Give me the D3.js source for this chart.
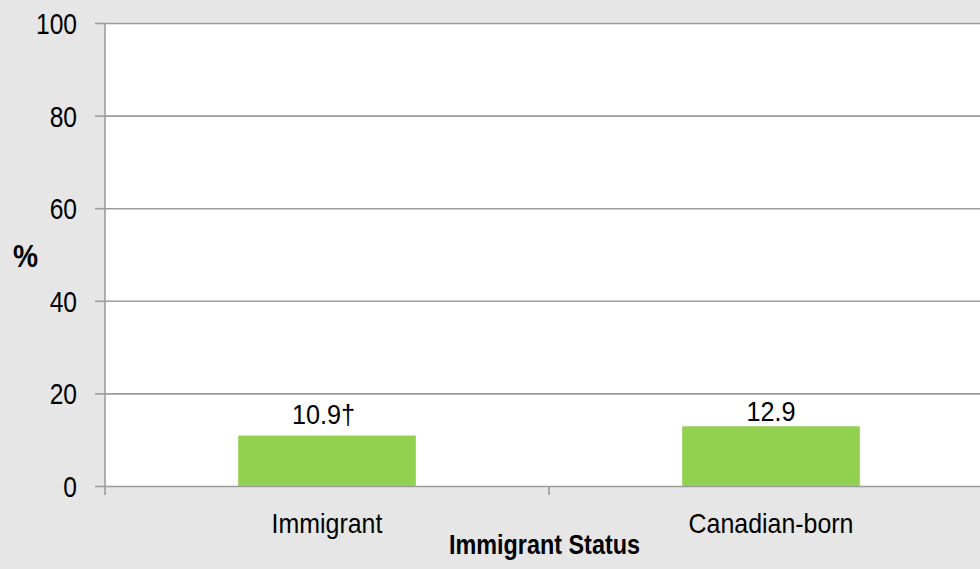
<!DOCTYPE html>
<html><head><meta charset="utf-8">
<script src="https://cdn.jsdelivr.net/npm/d3@7"></script>
<style>
html,body{margin:0;padding:0;background:#e6e6e6;overflow:hidden;}
svg{display:block;}
text{font-family:"Liberation Sans Narrow","Arial Narrow","Liberation Sans",Arial,sans-serif;fill:#000;}
</style></head>
<body>
<script>
const categories = ["Immigrant", "Canadian-born"];
const values = [10.9, 12.9];
const valueLabels = ["10.9\u2020", "12.9"];
const yTicks = [0, 20, 40, 60, 80, 100];
const xTitle = "Immigrant Status";
const yTitle = "%";

const W = 980, H = 569;
const m = {left: 105, top: 23, right: -13, bottom: 83};
const svg = d3.select("body").append("svg").attr("width", W).attr("height", H);
svg.append("rect").attr("width", W).attr("height", H).attr("fill", "#e6e6e6");

const x = d3.scaleBand().domain(categories).range([m.left, W - m.right]).paddingInner(0).paddingOuter(0);
const y = d3.scaleLinear().domain([0, 100]).range([H - m.bottom, m.top]);

// condensed look: horizontally squeeze text around its anchor
function squeeze(sel, sx) {
  sel.each(function () {
    const t = d3.select(this);
    const tx = +t.attr("x") || 0, ty = +t.attr("y") || 0;
    t.attr("x", 0).attr("y", 0).attr("transform", `translate(${tx},${ty}) scale(${sx},1)`);
  });
}

svg.append("rect").attr("x", m.left).attr("y", y(100)).attr("width", W - m.right - m.left)
  .attr("height", y(0) - y(100)).attr("fill", "#ffffff");

const gridColor = "#9c9c9c";
const grid = svg.append("g").attr("transform", `translate(${m.left},0)`)
  .call(d3.axisLeft(y).tickValues(yTicks).tickSize(-(W - m.right - m.left)).tickFormat(""));
grid.select(".domain").remove();
grid.selectAll("line").attr("stroke", gridColor).attr("stroke-width", 1.6);

const ya = svg.append("g").attr("transform", `translate(${m.left},0)`)
  .call(d3.axisLeft(y).tickValues(yTicks).tickSize(10).tickPadding(18));
ya.select(".domain").remove();
ya.selectAll("line").attr("stroke", gridColor).attr("stroke-width", 1.6);
ya.selectAll("text").style("font-size", "30px").attr("dy", "0.35em").call(squeeze, 0.82);

svg.append("line").attr("x1", m.left).attr("x2", m.left).attr("y1", y(100)).attr("y2", y(0) + 9)
  .attr("stroke", gridColor).attr("stroke-width", 1.6);

const bounds = categories.map(c => x(c)).concat([x(categories[categories.length - 1]) + x.bandwidth()]);
svg.append("g").selectAll("line").data(bounds.slice(1)).join("line")
  .attr("x1", d => d).attr("x2", d => d).attr("y1", y(0)).attr("y2", y(0) + 9)
  .attr("stroke", gridColor).attr("stroke-width", 1.6);

const bw = x.bandwidth() * 0.4;
svg.append("g").selectAll("rect").data(categories).join("rect")
  .attr("x", d => x(d) + x.bandwidth() / 2 - bw / 2)
  .attr("y", (d, i) => y(values[i]))
  .attr("width", bw)
  .attr("height", (d, i) => y(0) - y(values[i]))
  .attr("fill", "#92d050");

svg.append("g").selectAll("text").data(categories).join("text")
  .attr("x", (d, i) => x(d) + x.bandwidth() / 2 + (i === 0 ? -3.5 : 0))
  .attr("y", (d, i) => y(values[i]) - (i === 0 ? 12 : 5.5))
  .attr("text-anchor", "middle").style("font-size", "28px")
  .text((d, i) => valueLabels[i])
  .call(squeeze, 0.9);

svg.append("g").selectAll("text").data(categories).join("text")
  .attr("x", d => x(d) + x.bandwidth() / 2)
  .attr("y", y(0) + 47)
  .attr("text-anchor", "middle").style("font-size", "28px")
  .text(d => d)
  .call(squeeze, 0.89);

svg.append("text").attr("x", (m.left + W - m.right) / 2 - 4.5).attr("y", y(0) + 68)
  .attr("text-anchor", "middle").style("font-size", "28px").style("font-weight", "bold")
  .text(xTitle).call(squeeze, 0.835);
svg.append("text").attr("x", 25.5).attr("y", 266.5)
  .attr("text-anchor", "middle").style("font-size", "32px").style("font-weight", "bold")
  .text(yTitle).call(squeeze, 0.88);
</script>
</body></html>
